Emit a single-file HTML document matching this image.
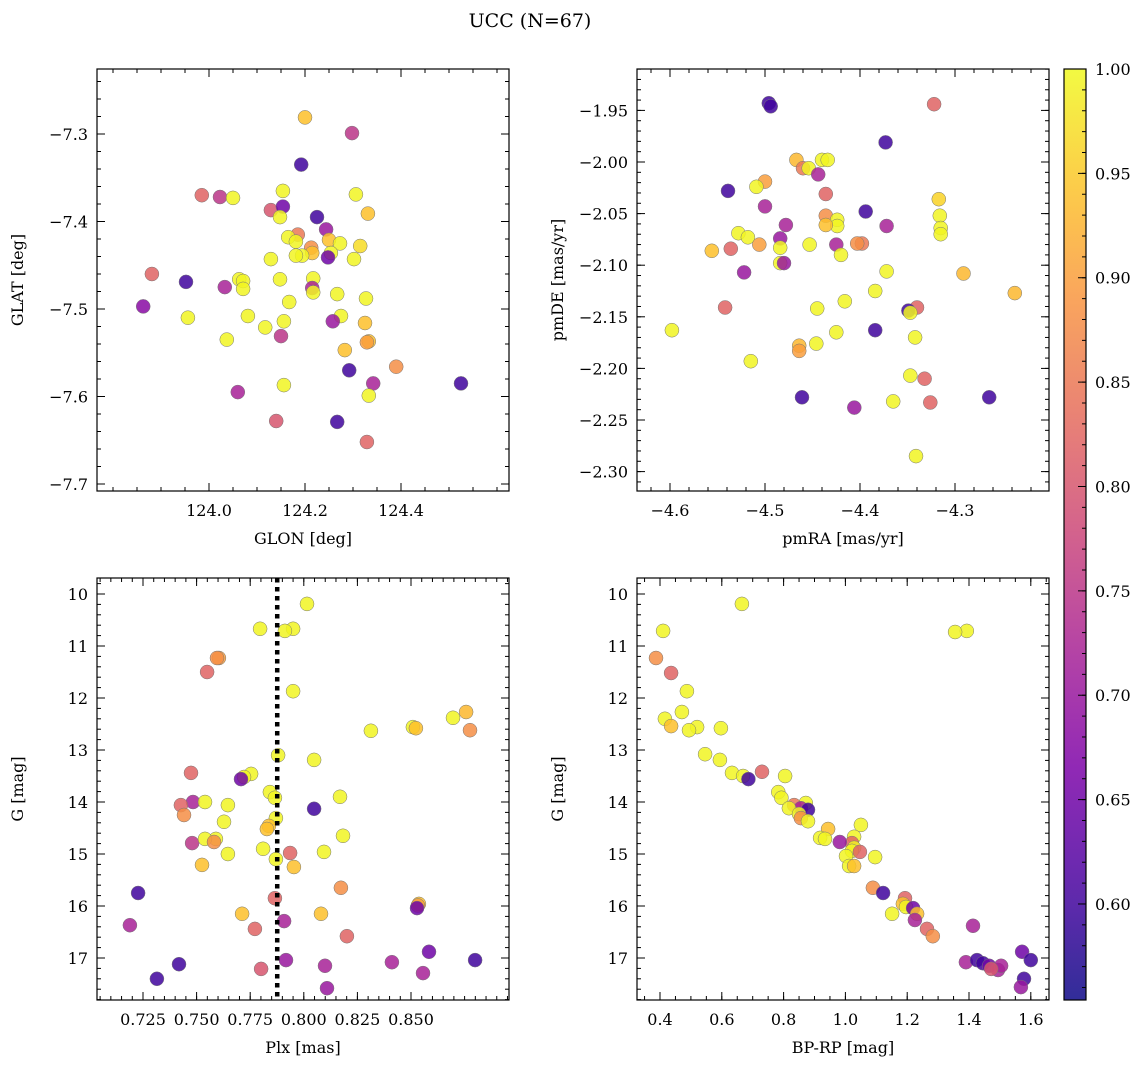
<!DOCTYPE html>
<html><head><meta charset="utf-8"><style>
body{margin:0;background:#fff;}
svg text{font-family:"DejaVu Serif","Liberation Serif",serif;fill:#000;}
</style></head><body>
<svg id="fig" width="1148" height="1068" xmlns="http://www.w3.org/2000/svg">
<text x="530" y="27" font-size="19" text-anchor="middle">UCC (N=67)</text>
</svg>
<script>
// ---- data ----
const tlGlon=[124.200,124.298,124.192,123.985,124.023,124.050,124.306,124.154,124.129,124.154,124.148,124.225,124.331,124.244,124.185,124.165,124.181,124.250,124.273,124.315,124.213,124.215,124.254,124.248,124.194,124.181,124.302,124.129,123.881,124.217,124.148,124.063,124.071,123.952,124.033,124.215,124.071,124.217,124.267,124.327,124.167,123.863,124.275,124.081,123.956,124.156,124.258,124.325,124.117,124.150,124.333,124.329,124.037,124.283,124.390,124.292,124.342,124.525,124.156,124.060,124.333,124.140,124.267,124.329];
const tlGlat=[-7.281,-7.299,-7.335,-7.370,-7.372,-7.373,-7.369,-7.365,-7.387,-7.383,-7.395,-7.395,-7.391,-7.409,-7.415,-7.418,-7.423,-7.421,-7.425,-7.428,-7.430,-7.436,-7.436,-7.441,-7.439,-7.439,-7.443,-7.443,-7.460,-7.465,-7.466,-7.466,-7.468,-7.469,-7.475,-7.476,-7.477,-7.481,-7.483,-7.488,-7.492,-7.497,-7.508,-7.508,-7.510,-7.514,-7.514,-7.516,-7.521,-7.531,-7.537,-7.538,-7.535,-7.547,-7.566,-7.570,-7.585,-7.585,-7.587,-7.595,-7.599,-7.628,-7.629,-7.652];
const tlProb=[.94,.75,.6,.82,.75,.995,.995,.995,.8,.65,.995,.6,.94,.7,.85,.995,.995,.94,.995,.97,.88,.94,.995,.65,.995,.995,.995,.995,.82,.995,.995,.995,.995,.6,.72,.72,.995,.995,.995,.995,.995,.68,.995,.995,.995,.995,.7,.94,.995,.75,.94,.9,.995,.94,.88,.6,.72,.6,.995,.72,.995,.8,.6,.82];

const trPmra=[-4.496,-4.494,-4.322,-4.373,-4.467,-4.460,-4.454,-4.440,-4.434,-4.5,-4.509,-4.539,-4.444,-4.436,-4.317,-4.5,-4.316,-4.394,-4.436,-4.424,-4.424,-4.436,-4.478,-4.372,-4.315,-4.315,-4.528,-4.518,-4.506,-4.484,-4.425,-4.398,-4.403,-4.453,-4.484,-4.536,-4.556,-4.420,-4.484,-4.480,-4.522,-4.291,-4.372,-4.237,-4.384,-4.416,-4.542,-4.445,-4.340,-4.349,-4.347,-4.425,-4.598,-4.384,-4.342,-4.464,-4.446,-4.464,-4.515,-4.332,-4.347,-4.365,-4.326,-4.264,-4.461,-4.406,-4.341];
const trPmde=[-1.943,-1.946,-1.944,-1.981,-1.998,-2.006,-2.006,-1.998,-1.998,-2.019,-2.024,-2.028,-2.012,-2.031,-2.036,-2.043,-2.052,-2.048,-2.052,-2.056,-2.062,-2.061,-2.061,-2.062,-2.064,-2.070,-2.069,-2.073,-2.080,-2.074,-2.080,-2.079,-2.079,-2.080,-2.083,-2.084,-2.086,-2.090,-2.098,-2.098,-2.107,-2.108,-2.106,-2.127,-2.125,-2.135,-2.141,-2.142,-2.141,-2.144,-2.146,-2.165,-2.163,-2.163,-2.170,-2.178,-2.176,-2.183,-2.193,-2.210,-2.207,-2.232,-2.233,-2.228,-2.228,-2.238,-2.285];
const trProb=[.6,.6,.82,.6,.93,.85,.995,.995,.995,.9,.995,.6,.72,.82,.96,.72,.995,.6,.88,.995,.995,.94,.72,.72,.995,.995,.995,.995,.9,.7,.72,.85,.88,.995,.995,.82,.94,.995,.995,.7,.7,.93,.995,.93,.995,.995,.82,.995,.82,.6,.995,.995,.995,.6,.995,.93,.995,.9,.995,.82,.995,.995,.82,.6,.6,.7,.995];

const blPlx=[.8015,.7796,.7950,.7912,.7604,.7595,.7549,.7950,.8757,.8696,.8775,.8313,.8509,.8523,.7880,.8048,.7474,.7754,.7721,.7707,.7842,.7865,.8169,.7483,.7539,.7427,.7646,.8048,.7441,.7870,.7628,.7837,.7828,.8183,.7479,.7590,.7539,.7581,.7810,.7936,.8094,.7646,.7870,.7954,.7525,.8173,.7865,.7227,.8537,.8532,.8528,.7712,.8080,.7908,.7772,.8201,.7189,.8584,.7418,.7917,.7801,.8099,.8411,.8799,.8556,.7315,.8108];
const blG=[10.19,10.67,10.67,10.71,11.23,11.23,11.5,11.87,12.27,12.38,12.62,12.63,12.56,12.58,13.1,13.19,13.44,13.46,13.52,13.56,13.81,13.92,13.9,14.0,14.0,14.06,14.06,14.13,14.25,14.31,14.38,14.46,14.52,14.65,14.79,14.71,14.71,14.77,14.9,14.98,14.96,15.0,15.1,15.25,15.21,15.65,15.85,15.75,15.96,15.99,16.04,16.15,16.15,16.29,16.44,16.58,16.37,16.88,17.12,17.04,17.21,17.15,17.08,17.04,17.29,17.4,17.58];
const blProb=[.995,.995,.995,.995,.9,.88,.82,.995,.93,.995,.88,.995,.995,.94,.995,.995,.82,.995,.995,.65,.995,.995,.995,.72,.995,.82,.995,.6,.88,.995,.995,.94,.94,.995,.75,.995,.995,.88,.995,.82,.995,.995,.995,.94,.94,.88,.82,.6,.94,.9,.65,.94,.94,.72,.82,.82,.72,.65,.6,.7,.8,.72,.72,.6,.72,.6,.7];
const plxMean=0.7876;

const brColor=[.665,.41,1.393,1.355,.387,.436,.487,.471,.416,.436,.52,.494,.597,.546,.594,.633,.73,.669,.686,.805,.783,.793,.872,.834,.856,.879,.817,.85,.856,.879,.944,1.05,1.028,.918,.934,1.021,.982,1.028,1.021,1.047,1.002,1.096,1.012,1.028,1.089,1.122,1.193,1.186,1.196,1.219,1.151,1.232,1.225,1.264,1.283,1.413,1.572,1.39,1.426,1.445,1.465,1.494,1.504,1.472,1.6,1.578,1.568];
const brG=[10.19,10.71,10.71,10.73,11.23,11.52,11.87,12.27,12.4,12.54,12.56,12.62,12.58,13.08,13.19,13.44,13.42,13.5,13.56,13.5,13.81,13.92,14.02,14.06,14.12,14.15,14.12,14.23,14.31,14.37,14.52,14.44,14.67,14.69,14.71,14.79,14.77,14.88,14.94,14.96,15.04,15.06,15.23,15.23,15.65,15.75,15.85,15.96,16.02,16.04,16.15,16.15,16.27,16.44,16.58,16.38,16.88,17.08,17.04,17.1,17.15,17.23,17.15,17.21,17.04,17.4,17.56];
const brProb=[.995,.995,.995,.995,.88,.82,.995,.995,.995,.94,.995,.995,.995,.995,.995,.995,.82,.995,.6,.995,.995,.995,.995,.85,.72,.6,.995,.995,.88,.995,.94,.995,.995,.995,.995,.82,.7,.995,.995,.82,.995,.995,.995,.94,.88,.6,.82,.94,.995,.65,.995,.94,.72,.82,.88,.72,.65,.72,.6,.6,.65,.72,.72,.8,.6,.6,.7];

const cbTicks=[0.60,0.65,0.70,0.75,0.80,0.85,0.90,0.95,1.00];
const cMin=0.554, cMax=1.0;

// ---- rendering ----
const NS="http://www.w3.org/2000/svg";
const fig=document.getElementById('fig');
function mk(tag,attrs,parent){const e=document.createElementNS(NS,tag);for(const k in attrs)e.setAttribute(k,attrs[k]);(parent||fig).appendChild(e);return e;}
const stops=[[13,8,135],[75,3,161],[125,3,168],[168,34,150],[203,70,121],[229,107,93],[248,148,65],[253,195,40],[240,249,33]];
function plasma(v){let t=(v-cMin)/(cMax-cMin);t=Math.max(0,Math.min(1,t));const p=t*(stops.length-1);const i=Math.min(stops.length-2,Math.floor(p));const f=p-i;const a=stops[i],b=stops[i+1];return `rgb(${Math.round(a[0]+(b[0]-a[0])*f)},${Math.round(a[1]+(b[1]-a[1])*f)},${Math.round(a[2]+(b[2]-a[2])*f)})`;}
function lin(d0,d1,r0,r1){return v=>r0+(v-d0)*(r1-r0)/(d1-d0);}
function ticks(lo,hi,step){const out=[];const s=Math.ceil(lo/step-1e-6);for(let k=s;k*step<=hi+1e-9;k++)out.push(+(k*step).toFixed(6));return out;}

function panel(o){
  const g=mk('g',{});
  
  
  const X=lin(o.xd[0],o.xd[1],o.x0,o.x1), Y=lin(o.yd[0],o.yd[1],o.y0,o.y1);
  const pts=mk('g',{},g);
  
  
  for(let i=0;i<o.xs.length;i++){
    const c=mk('circle',{cx:X(o.xs[i]).toFixed(1),cy:Y(o.ys[i]).toFixed(1),r:7,fill:plasma(o.cs[i]),'fill-opacity':0.85,stroke:'#777','stroke-width':0.5},pts);
    
    
  }
  if(o.extra)o.extra(g,X,Y);
  const xl=Math.min(o.xd[0],o.xd[1]),xh=Math.max(o.xd[0],o.xd[1]);
  const yl=Math.min(o.yd[0],o.yd[1]),yh=Math.max(o.yd[0],o.yd[1]);
  for(const v of ticks(xl,xh,o.xminor)){const x=X(v);mk('line',{x1:x,x2:x,y1:o.y1,y2:o.y1-4,stroke:'#000','stroke-width':1},g);mk('line',{x1:x,x2:x,y1:o.y0,y2:o.y0+4,stroke:'#000','stroke-width':1},g);}
  for(const v of ticks(yl,yh,o.yminor)){const y=Y(v);mk('line',{x1:o.x0,x2:o.x0+4,y1:y,y2:y,stroke:'#000','stroke-width':1},g);mk('line',{x1:o.x1,x2:o.x1-4,y1:y,y2:y,stroke:'#000','stroke-width':1},g);}
  for(const v of o.xt){const x=X(v);mk('line',{x1:x,x2:x,y1:o.y1,y2:o.y1-8,stroke:'#000','stroke-width':1},g);mk('line',{x1:x,x2:x,y1:o.y0,y2:o.y0+8,stroke:'#000','stroke-width':1},g);
    const t=mk('text',{x:x,y:o.y1+25,'font-size':16,'text-anchor':'middle'},g);t.textContent=v.toFixed(o.xdec).replace('-','\u2212');}
  for(const v of o.yt){const y=Y(v);mk('line',{x1:o.x0,x2:o.x0+8,y1:y,y2:y,stroke:'#000','stroke-width':1},g);mk('line',{x1:o.x1,x2:o.x1-8,y1:y,y2:y,stroke:'#000','stroke-width':1},g);
    const t=mk('text',{x:o.x0-9,y:y+6,'font-size':16,'text-anchor':'end'},g);t.textContent=v.toFixed(o.ydec).replace('-','\u2212');}
  const fr=mk('rect',{x:o.x0,y:o.y0,width:o.x1-o.x0,height:o.y1-o.y0,fill:'none',stroke:'#000','stroke-width':1.2},g);
  
  const xlab=mk('text',{x:(o.x0+o.x1)/2,y:o.y1+53,'font-size':16,'text-anchor':'middle'},g);xlab.textContent=o.xlabel;
  
  const ylab=mk('text',{x:0,y:0,'font-size':16,'text-anchor':'middle',transform:`translate(${o.x0-74},${(o.y0+o.y1)/2}) rotate(-90)`},g);ylab.textContent=o.ylabel;
  
}

panel({name:'glon-glat-panel',x0:97,x1:509,y0:69,y1:491,
  xs:tlGlon,ys:tlGlat,cs:tlProb,
  xd:[124.0-112/480,124.4+108/480],yd:[-7.3+65/875,-7.7-7/875],
  xt:[124.0,124.2,124.4],xdec:1,xminor:0.05,yt:[-7.3,-7.4,-7.5,-7.6,-7.7],ydec:1,yminor:0.02,
  xlabel:'GLON [deg]',ylabel:'GLAT [deg]'});
panel({name:'pm-panel',x0:637,x1:1049,y0:69,y1:491,
  xs:trPmra,ys:trPmde,cs:trProb,
  xd:[-4.5-128/950,-4.5+284/950],yd:[-2.0+93/1032,-2.0-329/1032],
  xt:[-4.6,-4.5,-4.4,-4.3],xdec:1,xminor:0.02,yt:[-1.95,-2.0,-2.05,-2.1,-2.15,-2.2,-2.25,-2.3],ydec:2,yminor:0.01,
  xlabel:'pmRA [mas/yr]',ylabel:'pmDE [mas/yr]'});
panel({name:'plx-g-panel',x0:97,x1:509,y0:578,y1:1000,
  xs:blPlx,ys:blG,cs:blProb,
  xd:[0.725-46/2144,0.725+366/2144],yd:[10-16/52,10+406/52],
  xt:[0.725,0.75,0.775,0.8,0.825,0.85],xdec:3,xminor:0.005,yt:[10,11,12,13,14,15,16,17],ydec:0,yminor:0.2,
  xlabel:'Plx [mas]',ylabel:'G [mag]',
  extra:(g,X,Y)=>{const l=mk('line',{x1:X(plxMean),x2:X(plxMean),y1:578,y2:1000,stroke:'#000','stroke-width':4.5,'stroke-dasharray':'4.5,4.5'},g);}});
panel({name:'cmd-panel',x0:637,x1:1049,y0:578,y1:1000,
  xs:brColor,ys:brG,cs:brProb,
  xd:[0.4-23/309,0.4+389/309],yd:[10-16/52,10+406/52],
  xt:[0.4,0.6,0.8,1.0,1.2,1.4,1.6],xdec:1,xminor:0.05,yt:[10,11,12,13,14,15,16,17],ydec:0,yminor:0.2,
  xlabel:'BP-RP [mag]',ylabel:'G [mag]'});

// colorbar
const cb=mk('g',{});


const cy0=69,cy1=1000,cx0=1064,cx1=1086;
const CY=lin(cMin,cMax,cy1,cy0);
const grad=mk('linearGradient',{id:'pg',x1:0,y1:1,x2:0,y2:0},mk('defs',{},cb));
for(let i=0;i<=20;i++){mk('stop',{offset:(i/20),'stop-color':plasma(cMin+(cMax-cMin)*i/20),'stop-opacity':0.85},grad);}
mk('rect',{x:cx0,y:cy0,width:cx1-cx0,height:cy1-cy0,fill:'url(#pg)',stroke:'#000','stroke-width':1.2},cb);
for(const v of ticks(cMin,cMax,0.01)){const y=CY(v);mk('line',{x1:cx1,x2:cx1-4,y1:y,y2:y,stroke:'#000','stroke-width':1},cb);}
for(const v of cbTicks){const y=CY(v);mk('line',{x1:cx1,x2:cx1-8,y1:y,y2:y,stroke:'#000','stroke-width':1},cb);
  const t=mk('text',{x:cx1+9,y:y+6,'font-size':16},cb);t.textContent=v.toFixed(2);}
</script>
</body></html>
